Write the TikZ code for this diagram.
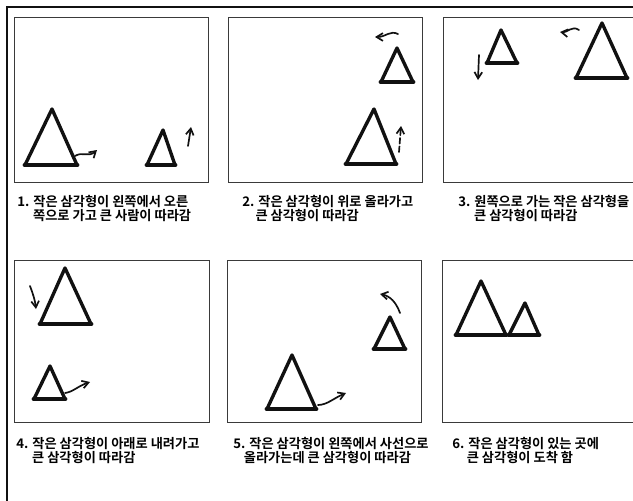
\documentclass[tikz,border=0pt]{standalone}
\usepackage{fontspec}
\usepackage{tikz}
\usetikzlibrary{arrows.meta}
\newfontfamily\krfont{Noto Sans CJK KR}[BoldFont={Noto Sans CJK KR Bold}]
\definecolor{ink}{HTML}{111111}
\definecolor{frame}{HTML}{3A3A3A}

\begin{document}
\begin{tikzpicture}[
    x=0.025cm, y=-0.025cm,
    panel/.style={draw=frame, line width=0.6pt},
    tri/.style={draw=ink, line width=2.4pt, line join=round},
    base/.style={draw=ink, line width=3.5pt, line cap=round},
    mv/.style={-{Straight Barb[length=4.5pt, width=5.5pt]}, ink, line width=1.2pt, line cap=round},
    note/.style={anchor=north west, inner sep=0pt, align=left,
                 font=\krfont\bfseries\fontsize{9.4}{10}\selectfont}
  ]
    \clip (0,0) rectangle (633,501);
    \fill[white] (0,0) rectangle (633,501);

    % outer frame
    \draw[ink, line width=1.4pt] (7,501) -- (7,7) -- (640,7);

    % panels
    \draw[panel] (14,17) rectangle (208,182);
    \draw[panel] (228,17) rectangle (422,182);
    \draw[panel] (443,17) rectangle (640,182);
    \draw[panel] (14,260) rectangle (209,422);
    \draw[panel] (227,260) rectangle (421,422);
    \draw[panel] (442,260) rectangle (640,422);

    % 1
    \draw[tri] (52,109) -- (77,165) -- (25,165) -- cycle;
    \draw[base] (25,165) -- (77,165);
    \draw[tri] (163,130) -- (175,165) -- (147,165) -- cycle;
    \draw[base] (147,165) -- (175,165);
    \draw[mv] (75,156) .. controls (83,151) and (88,158) .. (97,150);
    \draw[mv] (188,146) -- (191,127);

    % 2
    \draw[tri] (397,48) -- (413,82) -- (381,82) -- cycle;
    \draw[base] (381,82) -- (413,82);
    \draw[tri] (374,109) -- (396,164) -- (346,164) -- cycle;
    \draw[base] (346,164) -- (396,164);
    \draw[mv] (398,34) .. controls (390,30) and (386,37) .. (375,37);
    \draw[mv, dashed, dash pattern=on 4pt off 2pt] (399,152) -- (401,126);

    % 3
    \draw[tri] (501,30) -- (517,63) -- (487,63) -- cycle;
    \draw[base] (487,63) -- (517,63);
    \draw[tri] (602,23) -- (627,78) -- (576,78) -- cycle;
    \draw[base] (576,78) -- (627,78);
    \draw[mv] (479,55) -- (478,80);
    \draw[mv] (579,30) .. controls (572,25) and (567,33) .. (560,32);

    % 4
    \draw[tri] (65,268) -- (91,324) -- (40,324) -- cycle;
    \draw[base] (40,324) -- (91,324);
    \draw[tri] (50,366) -- (65,399) -- (34,399) -- cycle;
    \draw[base] (34,399) -- (65,399);
    \draw[mv] (30,286) .. controls (33,294) and (35,300) .. (36,309);
    \draw[mv] (65,393) .. controls (73,392) and (78,386) .. (90,382);

    % 5
    \draw[tri] (390,317) -- (405,349) -- (374,349) -- cycle;
    \draw[base] (374,349) -- (405,349);
    \draw[tri] (292,355) -- (316,409) -- (267,409) -- cycle;
    \draw[base] (267,409) -- (316,409);
    \draw[mv] (400,313) .. controls (396,302) and (390,296) .. (380,294);
    \draw[mv] (318,405) .. controls (327,405) and (334,398) .. (346,393);

    % 6
    \draw[tri] (481,281) -- (506,335) -- (456,335) -- cycle;
    \draw[base] (456,335) -- (506,335);
    \draw[tri] (525,303) -- (539,335) -- (509,335) -- cycle;
    \draw[base] (509,335) -- (539,335);

    % captions
    \node[note] (txt1) at (17,195) {1. 작은 삼각형이 왼쪽에서 오른\\\hspace*{1.2em}쪽으로 가고 큰 사람이 따라감};
    \node[note] (txt2) at (242,195) {2. 작은 삼각형이 위로 올라가고\\\hspace*{1em}큰 삼각형이 따라감};
    \node[note] (txt3) at (458,195) {3. 원쪽으로 가는 작은 삼각형을\\\hspace*{1.2em}큰 삼각형이 따라감};
    \node[note] (txt4) at (16,437) {4. 작은 삼각형이 아래로 내려가고\\\hspace*{1.2em}큰 삼각형이 따라감};
    \node[note] (txt5) at (233,437) {5. 작은 삼각형이 왼쪽에서 사선으로\\\hspace*{0.8em}올라가는데 큰 삼각형이 따라감};
    \node[note] (txt6) at (452,437) {6. 작은 삼각형이 있는 곳에\\\hspace*{1.1em}큰 삼각형이 도착 함};
  \end{tikzpicture}
\end{document}
